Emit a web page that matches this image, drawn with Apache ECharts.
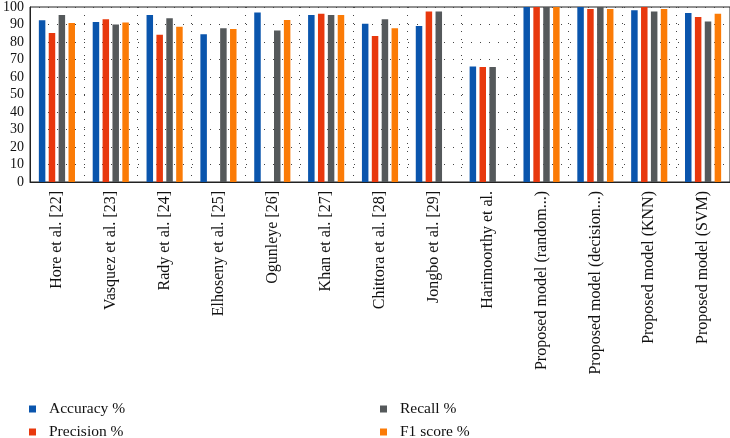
<!DOCTYPE html>
<html><head><meta charset="utf-8">
<script src="https://cdn.jsdelivr.net/npm/echarts@6/dist/echarts.min.js"></script>
<style>html,body{margin:0;padding:0;background:#fff}#c{width:730px;height:438px}</style>
</head><body><div id="c"></div>
<script>
const categories = ["Hore et al. [22]","Vasquez et al. [23]","Rady et al. [24]","Elhoseny et al. [25]","Ogunleye [26]","Khan et al. [27]","Chittora et al. [28]","Jongbo et al. [29]","Harimoorthy et al.","Proposed model (random...)","Proposed model (decision...)","Proposed model (KNN)","Proposed model (SVM)"];
const accuracy  = [92.5, 91.5, 95.5, 84.5, 96.8, 95.5, 90.4, 89.2, 66.0, 100, 100, 98.1, 96.6];
const precision = [85.1, 93.0, 84.2, null, null, 96.2, 83.4, 97.5, 65.7, 100, 98.9, 100, 94.3];
const recall    = [95.5, 90.0, 93.6, 87.9, 86.6, 95.5, 93.0, 97.5, 65.7, 100, 100, 97.4, 91.7];
const f1        = [90.8, 91.1, 88.7, 87.5, 92.6, 95.5, 87.9, null, null, 100, 98.9, 98.9, 96.2];
const yTicks = [0,10,20,30,40,50,60,70,80,90,100];

const font = 'Liberation Serif';
const colors = ['#0a55ad','#e8380d','#55595b','#fb7b06'];
const names = ['Accuracy %','Precision %','Recall %','F1 score %'];
const datas = [accuracy, precision, recall, f1];
const legendPos = [[29,401],[29,424],[380,401],[380,424]];

const chart = echarts.init(document.getElementById('c'), null, {renderer:'canvas'});
chart.setOption({
  animation:false,
  color: colors,
  grid:{left:30, right:0, top:6, height:176, show:true, borderColor:'#222', borderWidth:1},
  legend: names.map((n,i)=>({left:legendPos[i][0], top:legendPos[i][1], padding:0,
    itemWidth:7, itemHeight:7, icon:'rect',
    textStyle:{fontFamily:font, fontSize:15.5, color:'#111', padding:[0,0,0,8]}, data:[n]})),
  xAxis:{type:'category', data:categories,
    axisLine:{lineStyle:{color:'#222'}}, axisTick:{show:false},
    splitLine:{show:true, lineStyle:{type:[1,7], color:'#444'}},
    axisLabel:{rotate:90, margin:9, interval:0, fontFamily:font, fontSize:16, color:'#111'}},
  yAxis:{type:'value', min:yTicks[0], max:yTicks[yTicks.length-1], interval:10,
    axisLine:{show:true, lineStyle:{color:'#222'}}, axisTick:{show:false},
    splitLine:{show:true, lineStyle:{type:[1,8], color:'#444'}},
    axisLabel:{margin:6, fontFamily:font, fontSize:14, color:'#111'}},
  series: datas.map((d,i)=>({name:names[i], type:'bar', data:d, barWidth:6.5, barGap:'52%',
    itemStyle:{color:colors[i]}}))
});
</script></body></html>
